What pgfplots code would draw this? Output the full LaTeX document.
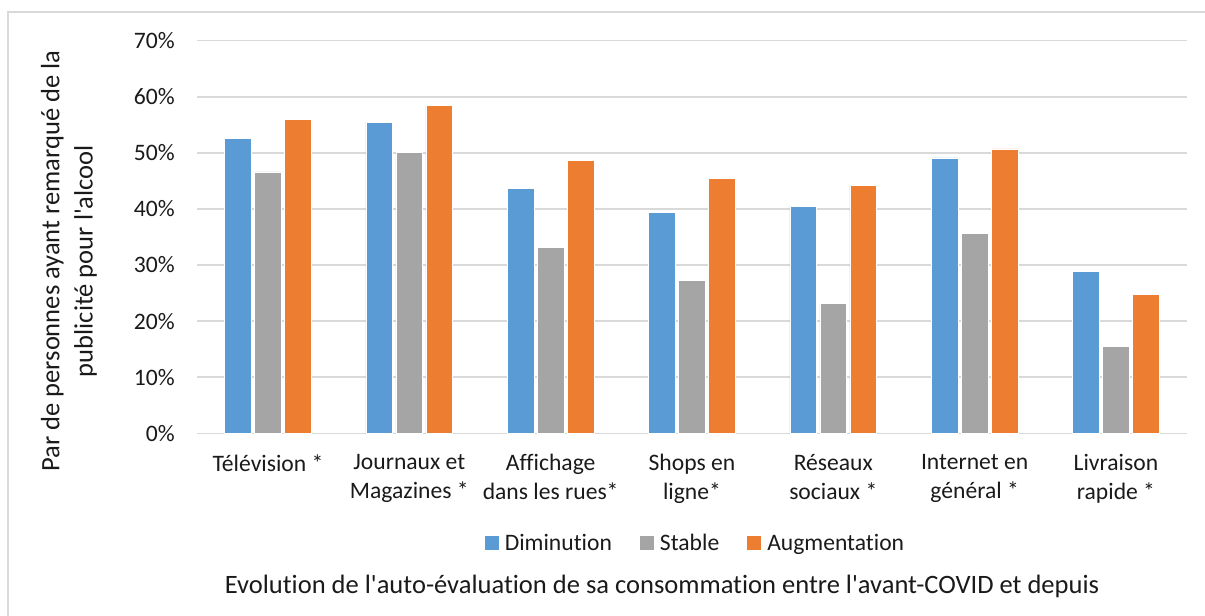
\documentclass[border=0pt]{standalone}
\usepackage{pgfplots}
\pgfplotsset{compat=1.18}
\usepackage{fontspec}
\setmainfont{Carlito}[Ligatures={TeXOff,NoCommon}]
\definecolor{cblue}{HTML}{5B9BD5}
\definecolor{cgray}{HTML}{A5A5A5}
\definecolor{corange}{HTML}{ED7D31}
\definecolor{cgrid}{HTML}{D9D9D9}
\definecolor{ctext}{HTML}{1A1A1A}
\newcommand{\cfont}{\fontsize{17.7pt}{22pt}\selectfont}
\newcommand{\tfont}{\fontsize{19.9pt}{25pt}\selectfont}
\begin{document}
\begin{tikzpicture}[x=1pt,y=1pt]
\useasboundingbox (-148,-136.3) rectangle (755.8,325);
\draw[cgrid, line width=1.2pt] (-142,-150) -- (-142,315.8) -- (800,315.8);
\begin{axis}[
  at={(0,0)}, anchor=south west,
  scale only axis, width=742pt, height=294.5pt,
  ybar=2.5pt, bar width=20pt,
  xmin=-0.5, xmax=6.5, ymin=0, ymax=70,
  ytick={0,10,...,70},
  /pgf/number format/assume math mode=true,
  yticklabel={\pgfmathprintnumber{\tick}\%},
  xtick={0,...,6},
  xticklabels={{Télévision *},{Journaux et\\Magazines *},{Affichage\\dans les rues*},{Shops en\\ligne*},{Réseaux\\sociaux *},{Internet en\\général *},{Livraison\\rapide *}},
  axis line style={draw=none},
  major tick length=0pt,
  ymajorgrids, grid style={cgrid, line width=1.2pt},
  yticklabel style={font=\cfont, text=ctext, anchor=east, inner sep=0pt, xshift=-16.7pt},
  xticklabel style={font=\cfont, text=ctext, align=center, anchor=north, inner sep=0pt, yshift=-15.5pt},
  ylabel={Par de personnes ayant remarqué de la\\publicité pour l'alcool},
  ylabel style={font=\tfont, text=ctext, align=center, at={(axis description cs:-0.1297,0.4387)}, anchor=center},
  xlabel={Evolution de l'auto-évaluation de sa consommation entre l'avant-COVID et depuis},
  xlabel style={font=\tfont, text=ctext, at={(axis description cs:0.4697,-0.4068)}, anchor=base},
  legend columns=-1,
  legend style={draw=none, fill=none, at={(axis description cs:0.5025,-0.2794)}, anchor=center, font=\cfont, text=ctext, inner sep=0pt,
    nodes={inner sep=0pt},
    /tikz/every odd column/.append style={column sep=4.5pt},
    /tikz/every even column/.append style={column sep=21pt}},
  legend image code/.code={\fill[#1, draw=none] (0pt,-5.25pt) rectangle (10.5pt,5.25pt);},
  clip=false,
]
\addplot[fill=cblue, draw=white, line width=0.6pt] coordinates {(0,52.6) (1,55.5) (2,43.6) (3,39.4) (4,40.4) (5,49.1) (6,28.8)};
\addplot[fill=cgray, draw=white, line width=0.6pt] coordinates {(0,46.6) (1,50.0) (2,33.1) (3,27.2) (4,23.1) (5,35.7) (6,15.5)};
\addplot[fill=corange, draw=white, line width=0.6pt] coordinates {(0,56.0) (1,58.5) (2,48.7) (3,45.5) (4,44.2) (5,50.7) (6,24.7)};
\legend{Diminution,Stable,Augmentation}
\end{axis}
\end{tikzpicture}
\end{document}
